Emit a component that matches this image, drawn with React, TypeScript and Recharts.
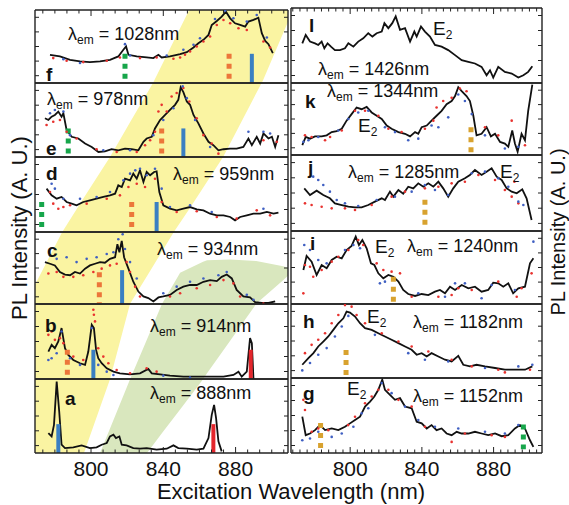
import React from "react";
import { ComposedChart, Line, Scatter, XAxis, YAxis, ReferenceLine, Area } from "recharts";

type Pt = [number, number];
type Band = [number, number, number];
type Mark = { x: number; top: number; bottom: number; kind: "blue" | "red" | "orange" | "green" | "gold" };

const FONT = '"Liberation Sans", Arial, Helvetica, sans-serif';

// axis values
const xMajor = [800, 840, 880];
const yTicks = [10, 30, 50, 70, 90];
const leftDomain: [number, number] = [769, 909];
const rightDomain: [number, number] = [767, 907];

// shaded bands of the left column: [nm, lower, upper] in panel units (0 = bottom of a, 6 = top of f)
const yellowBand: Band[] = [
  [769, 0, 2.28], [784, 0, 2.99], [796.1, 0, 3.46], [810.5, 1.0, 4.01], [821.6, 2.02, 4.48],
  [834.3, 2.53, 5.01], [846, 3.0, 5.59], [854.3, 3.3, 6], [873.1, 4.01, 6], [895.2, 5.05, 6], [909, 5.84, 6],
];
const greenBand: Band[] = [
  [805, 0, 0], [821.6, 0, 1.0], [831, 0, 1.54], [839.3, 0.27, 2.02], [849.3, 0.59, 2.44], [862, 1.0, 2.59],
  [864.2, 1.08, 2.61], [877, 1.52, 2.62], [891.4, 2.02, 2.6], [906.3, 2.34, 2.53], [909, 2.4, 2.51],
];

// ---- panel f, λem = 1028 nm
const fLine: Pt[] = [
  [777.3, 38.6], [782.8, 36.4], [788.4, 31.8], [793.9, 29.5], [799.4, 28.6], [805, 29.5], [810.5, 31.8], [815.1, 36.4],
  [817.9, 45.5], [819.4, 50], [820.7, 38.6], [825.3, 36.4], [830.8, 35], [834.5, 34.1], [837.3, 38.6], [839.1, 35],
  [843.7, 36.4], [849.3, 39.5], [853, 42.3], [856.7, 48.6], [859.4, 54.5], [862.2, 59.1], [865, 65.9], [866.8, 79.5],
  [869.6, 85], [872.3, 90.9], [874.7, 97.7], [877, 88.6], [879.7, 81.8], [882.5, 79.5], [885.3, 77.3], [887.1, 84.1],
  [889.9, 86.4], [892.6, 89.5], [894.5, 68.2], [896.4, 57.7], [898.2, 53.2], [900.6, 40.9],
];
const fRed: Pt[] = [
  [779.1, 34.1], [786.5, 30.5], [795.7, 28.6], [808.7, 30.5], [816, 35], [827.1, 34.1], [836.3, 35], [845.6, 33.2],
  [849.3, 35], [852, 38.6], [854.8, 43.2], [858.5, 50], [862.2, 56.8], [865.9, 63.6], [869.6, 79.5], [873.3, 86.4],
  [877, 81.8], [881.6, 75], [886.2, 72.7], [895.4, 56.8], [899.1, 48.6],
];
const fBlue: Pt[] = [
  [784.7, 32.7], [793.9, 27.3], [818.8, 53.2], [821.6, 37.7], [841.9, 37.7], [851.1, 45.5], [856.7, 52.3],
  [860.3, 61.4], [868.6, 87.7], [874.2, 99], [878.8, 88.6], [886.2, 84.1], [891.7, 93.2], [897.3, 62.3],
];
const fMarks: Mark[] = [
  { x: 818.8, top: 40, bottom: 4, kind: "green" },
  { x: 876.4, top: 40, bottom: 3, kind: "orange" },
  { x: 889, top: 40, bottom: 0, kind: "blue" },
];

// ---- panel e, λem = 978 nm
const eLine: Pt[] = [
  [774.5, 52.3], [776.4, 50], [778.2, 54.5], [780, 56.8], [781.9, 61.4], [783.7, 54.5], [784.7, 59.1], [786.5, 36.4],
  [789.3, 27.3], [793, 25], [796.7, 18.2], [800.4, 13.6], [804.1, 6.8], [807.7, 7.7], [811.4, 10.5], [815.1, 9.1],
  [818.8, 11.4], [822.5, 10.5], [826.2, 9.1], [829, 20.5], [830.8, 25], [833.6, 27.3], [835.4, 38.6], [838.2, 50],
  [841, 56.8], [843.7, 63.6], [846.5, 70.5], [848.3, 77.3], [849.6, 94.1], [851.1, 87.7], [853, 75], [854.8, 70.5],
  [856.7, 56.8], [859.4, 45.5], [862.2, 31.8], [865, 20.5], [867.7, 15.9], [870.5, 9.1], [873.3, 10.5], [877, 11.4],
  [880.6, 11.4], [884.3, 13.6], [887.1, 25], [889, 15.9], [891.7, 27.3], [893.6, 18.2], [895.4, 31.8], [898.2, 25],
  [900.1, 27.3], [901.9, 13.6], [903.7, 29.5],
];
const eRed: Pt[] = [
  [775.4, 43.2], [779.1, 47.7], [782.8, 50], [786.5, 34.1], [792, 25], [803.1, 10.5], [814.2, 6.8], [825.3, 6.8],
  [829.9, 15.9], [832.7, 22.7], [835.4, 34.1], [837.3, 61.4], [839.1, 70.5], [841.9, 61.4], [844.6, 81.8],
  [847.4, 86.4], [851.1, 93.2], [854.4, 75], [858.5, 52.3], [862.2, 29.5], [866.8, 18.2], [870.5, 4.5],
  [895.4, 22.7], [902.8, 20.5],
];
const eBlue: Pt[] = [
  [777.3, 59.1], [780, 63.6], [784.7, 61.4], [788.4, 29.5], [806.8, 9.1], [821.6, 9.1], [834.5, 29.5], [840, 50],
  [845.6, 65.9], [850.7, 95.5], [853, 79.5], [857.6, 50], [865.9, 13.6], [887.1, 34.1], [895.4, 34.1], [899.1, 31.8],
];
const eMarks: Mark[] = [
  { x: 787.4, top: 38.6, bottom: 2, kind: "green" },
  { x: 839.1, top: 38.6, bottom: 2, kind: "orange" },
  { x: 851.1, top: 38.6, bottom: 0, kind: "blue" },
];

// ---- panel d, λem = 959 nm
const dLine: Pt[] = [
  [775.4, 57.8], [778.2, 48.9], [781, 44.4], [783.7, 46.7], [786.5, 40], [789.3, 37.8], [792, 35.6], [795.7, 40],
  [799.4, 42.2], [803.1, 44.4], [806.8, 46.7], [810.5, 48.9], [813.3, 51.1], [815.1, 62.2], [817, 60], [818.8, 71.1],
  [821.6, 68.9], [823.4, 77.8], [825.3, 71.1], [827.1, 82.2], [829, 66.7], [830.8, 80], [832.7, 75.6], [834.9, 80],
  [836.3, 80.9], [837.8, 53.3], [840, 35.6], [843.7, 31.1], [847.4, 28.9], [851.1, 31.1], [854.8, 33.3],
  [858.5, 30.2], [862.2, 28.9], [865.9, 24.4], [869.6, 22.2], [873.3, 22.2], [877, 20], [879.7, 15.6], [882.5, 20],
  [886.2, 22.2], [889.9, 24.4], [893.6, 24.4], [897.3, 26.7], [901, 24.4], [903.7, 25.8],
];
const dRed: Pt[] = [
  [777.3, 53.3], [779.1, 37.8], [781.9, 31.1], [784.7, 33.3], [788.4, 35.6], [797.6, 37.8], [808.7, 44.4],
  [816, 48.9], [820.7, 60], [825.3, 64.4], [829.9, 60], [835.4, 71.1], [839.1, 40], [847.4, 26.7], [858.5, 27.6],
  [869.6, 20], [880.6, 17.8], [891.7, 28.9], [899.1, 22.2],
];
const dBlue: Pt[] = [
  [778.2, 64.4], [780, 57.8], [784.7, 44.4], [793.9, 44.4], [803.1, 46.7], [810.5, 53.3], [817.9, 68.9],
  [821.6, 77.8], [824.5, 82.2], [827.1, 84.4], [830.8, 75.6], [835.4, 84.4], [839.1, 57.8], [843.7, 33.3],
  [854.8, 35.6], [866.8, 26.7], [895.4, 31.1],
];
const dMarks: Mark[] = [
  { x: 772.7, top: 40, bottom: 2, kind: "green" },
  { x: 822.5, top: 40, bottom: 2, kind: "orange" },
  { x: 836.3, top: 40, bottom: 0, kind: "blue" },
];

// ---- panel c, λem = 934 nm
const cLine: Pt[] = [
  [774.5, 58.2], [777.3, 55.9], [780, 53.6], [782.8, 44.5], [785.6, 40.9], [788.4, 40], [791.1, 44.5], [793.9, 42.3],
  [796.7, 49.1], [799.4, 53.6], [802.2, 55.9], [805, 58.2], [807.7, 57.3], [810.5, 62.7], [813.3, 65], [814.6, 83.2],
  [815.7, 71.8], [817, 87.7], [818.3, 65], [820.7, 49.1], [823.4, 30.9], [826.2, 17.3], [829, 10.5], [831.7, 8.2],
  [834.5, 3.6], [837.3, 9.1], [840, 10.5], [843.7, 12.7], [847.4, 19.5], [851.1, 24.1], [854.8, 26.4], [858.5, 26.4],
  [862.2, 30.9], [865.9, 33.2], [869.6, 31.8], [872.3, 37.7], [875.1, 40.9], [877.9, 35.5], [880.6, 19.5],
  [884.3, 10.5], [888, 9.1], [890.8, 2.7], [894.5, 1.4], [898.2, 1.4], [901.9, 3.6],
];
const cRed: Pt[] = [
  [776.4, 42.3], [781, 44.5], [784.7, 37.7], [790.2, 37.7], [795.7, 40], [801.3, 44.5], [805.9, 49.1], [810.5, 53.6],
  [814.2, 55.9], [819.7, 58.2], [821.6, 44.5], [824.4, 24.1], [827.1, 10.5], [843.7, 10.5], [849.3, 15],
  [858.5, 21.8], [865.9, 26.4], [873.3, 33.2], [878.8, 28.6], [882.5, 10.5], [895.4, 0.5],
];
const cBlue: Pt[] = [
  [777.3, 67.3], [781, 62.7], [786.5, 65], [792, 58.2], [797.6, 62.7], [803.1, 65], [808.7, 69.5], [812.4, 71.8],
  [815.1, 90], [817.5, 96.8], [818.8, 76.4], [821.6, 58.2], [825.3, 35.5], [840, 15], [847.4, 24.1], [854.8, 30.9],
  [862.2, 35.5], [870.5, 40], [875.1, 44.5], [886.2, 12.7], [889.9, 5.9],
];
const cMarks: Mark[] = [
  { x: 804.6, top: 44, bottom: 1, kind: "orange" },
  { x: 817.2, top: 47, bottom: 0, kind: "blue" },
];

// ---- panel b, λem = 914 nm
const bLine: Pt[] = [
  [776.4, 36.6], [778.2, 45.5], [780, 41.1], [781.9, 50], [783.7, 67.9], [785.6, 41.1], [787.4, 32.1], [790.2, 25.4],
  [793.9, 21], [796.7, 18.8], [798.5, 36.6], [800.4, 72.3], [801.6, 67.9], [802.8, 38.8], [804, 27.7], [805.9, 21],
  [808.7, 14.3], [812.4, 9.8], [816, 7.6], [821.6, 6.3], [827.1, 7.6], [831.7, 13.4], [833.6, 7.6], [838.2, 6.3],
  [843.7, 4.5], [851.1, 3.1], [858.5, 3.1], [865.9, 3.1], [873.3, 3.1], [878.8, 5.4], [881.6, 9.8], [883.4, 3.1],
  [886.2, 9.8], [888, 54.5], [889, 47.8], [889.9, 0],
];
const bRed: Pt[] = [
  [776.4, 58.9], [778.2, 63.4], [780, 52.2], [782.8, 54.5], [784.7, 47.8], [790.2, 29.9], [795.7, 25.4],
  [801.3, 92.4], [801.6, 85.7], [802.2, 76.8], [804, 41.1], [806.8, 29.9], [809.6, 21], [814.2, 12.1],
  [821.6, 7.6], [830.8, 14.3], [836.3, 9.8],
];
const bBlue: Pt[] = [
  [776.4, 25.4], [778.2, 27.7], [781, 34.4], [783.7, 63.4], [788.4, 27.7], [793.9, 18.8], [800.4, 67.9], [804, 18.8],
  [808.7, 9.8], [812.4, 5.4], [840, 4.5], [854.8, 1.8],
];
const bMarks: Mark[] = [
  { x: 786.9, top: 39, bottom: 3, kind: "orange" },
  { x: 801.3, top: 39, bottom: 0, kind: "blue" },
  { x: 888.4, top: 39, bottom: 0, kind: "red" },
];

// ---- panel a, λem = 888 nm
const aLine: Pt[] = [
  [776.4, 26.9], [778.2, 22.4], [779.5, 38.1], [781, 96.4], [782.4, 56.1], [783.7, 11.2], [785.6, 6.7], [790.2, 7.6],
  [794.8, 10.3], [799.4, 6.7], [803.1, 7.6], [805.9, 11.2], [808.7, 13.5], [810.5, 22.4], [812.4, 24.7], [813.8, 20.2],
  [815.7, 22.4], [817, 11.2], [819.7, 10.3], [823.4, 6.7], [827.1, 5.8], [830.8, 6.7], [836.3, 4.5], [841.9, 5.8],
  [845.6, 10.3], [848.3, 6.7], [853, 5.8], [858.5, 4.5], [862.2, 5.8], [865, 20.2], [866.8, 51.6], [868.1, 65],
  [869.2, 47.1], [870.5, 15.7], [872.3, 2.2],
];
const aMarks: Mark[] = [
  { x: 781.9, top: 39, bottom: 0, kind: "blue" },
  { x: 867.7, top: 39, bottom: 0, kind: "red" },
];

// ---- panel l, λem = 1426 nm
const lLine: Pt[] = [
  [773.3, 52.9], [775.2, 64.1], [777.6, 55.2], [780.4, 52.9], [782.2, 50.7], [784.1, 55.2], [785.6, 46.2], [787.4, 52.9],
  [789.3, 48.4], [791.5, 43.9], [794.3, 43.9], [797.1, 46.2], [799, 52.9], [801.8, 48.4], [804.5, 55.2], [807.3, 59.6],
  [810.1, 66.4], [812.4, 61.9], [814.8, 66.4], [817.6, 68.6], [819.1, 79.8], [821.3, 73.1], [823.5, 79.8],
  [825.4, 88.8], [827.8, 70.9], [830.6, 73.1], [833.4, 55.2], [835.8, 68.6], [837.1, 61.9], [839.5, 75.3],
  [841.7, 68.6], [844.5, 61.9], [847.3, 50.7], [851, 48.4], [854.7, 43.9], [858.5, 37.2], [862.2, 30.5],
  [865.9, 28.3], [869.6, 26], [873.3, 21.5], [876.1, 10.3], [878, 17], [879.8, 7.2], [882.6, 21.5], [886.3, 14.8],
  [890.1, 12.6], [893.8, 7.2], [896.6, 10.3], [899.3, 14.8], [901.6, 22.4],
];

// ---- panel k, λem = 1344 nm
const kLine: Pt[] = [
  [773.3, 13.6], [775.2, 25], [777.6, 22.7], [780.4, 25.9], [784.1, 25.9], [786.9, 27.3], [789.7, 31.8], [792.5, 33.2],
  [795.3, 36.4], [798, 47.7], [800.8, 56.8], [803.6, 65.9], [806.4, 63.6], [809.2, 66.8], [812, 59.1], [814.8, 54.5],
  [817.6, 50], [820.4, 40.9], [823.1, 36.4], [826.9, 31.8], [830.6, 29.5], [833.4, 25.9], [836.2, 31.8], [838, 29.5],
  [839.9, 38.6], [842.7, 40.9], [845.4, 47.7], [848.2, 54.5], [851, 61.4], [853.8, 70.5], [856.6, 75], [858.5, 81.8],
  [860.3, 94.1], [862.2, 88.6], [864.9, 81.8], [866.8, 75], [868.7, 54.5], [870.5, 27.3], [873.3, 29.5],
  [876.1, 38.6], [878.5, 25.9], [880.8, 29.5], [883.6, 18.2], [886.3, 15.9], [888.2, 11.4], [890.4, 34.1],
  [891.9, 15.9], [893.4, 4.5], [895.6, 29.5], [897.5, 20.5], [899.3, 61.4], [901.6, 97.7],
];
const kRed: Pt[] = [
  [774.8, 27.3], [778.5, 25], [786, 20.5], [788.8, 25], [795.3, 34.1], [802.7, 61.4], [808.3, 61.4], [815.7, 54.5],
  [821.3, 36.4], [828.7, 31.8], [841.7, 36.4], [846.4, 47.7], [848.2, 65.9], [851.9, 75], [856.6, 79.5],
  [861.2, 92.3], [864.9, 88.6], [875.2, 38.6], [882.6, 27.3], [890.1, 47.7], [897.5, 13.6],
];
const kBlue: Pt[] = [
  [773.9, 18.2], [776.7, 20.5], [782.2, 25], [793.4, 34.1], [799, 50], [804.5, 59.1], [810.1, 61.4], [819.4, 38.6],
  [825, 31.8], [832.4, 20.5], [838, 22.7], [845.4, 40.9], [849.2, 38.6], [854.7, 52.3], [860.3, 84.1], [864, 75],
  [867.8, 56.8], [875.2, 27.3], [886.3, 9.1], [893.8, 11.4],
];
const kMarks: Mark[] = [{ x: 867.4, top: 38.6, bottom: 1, kind: "gold" }];

// ---- panel j, λem = 1285 nm
const jLine: Pt[] = [
  [774.4, 56.1], [777.6, 47.4], [781.3, 53.1], [785, 47.4], [788.7, 43], [791.5, 36.4], [795.3, 34.2], [799, 32],
  [802.7, 31.1], [806.4, 31.1], [810.1, 34.2], [813.8, 38.6], [817.6, 43], [819.4, 40.8], [822.2, 51.8], [824.1, 45.2],
  [826.9, 53.9], [829.6, 49.1], [832.4, 58.3], [835.2, 56.1], [838, 62.7], [840.8, 58.3], [843.6, 62.7], [846.4, 58.3],
  [849.2, 64.9], [851.9, 56.1], [854.7, 45.2], [857.5, 56.1], [860.3, 64.9], [864, 69.3], [866.8, 73.7], [869.6, 80.3],
  [873.3, 73.7], [876.1, 78.1], [878.9, 82.5], [881.7, 71.5], [884.5, 67.1], [887.3, 56.1], [890.1, 51.8],
  [892.9, 49.6], [896, 54.8], [898.4, 43], [901.2, 14.5],
];
const jRed: Pt[] = [
  [774.8, 36.4], [778.5, 34.2], [784.1, 32], [789.7, 29.8], [797.1, 29.8], [802.7, 27.6], [812, 34.2], [823.1, 45.2],
  [830.6, 51.8], [841.7, 56.1], [849.2, 58.3], [856.6, 62.7], [864, 64.9], [871.5, 73.7], [880.8, 67.1],
  [886.3, 53.9], [890.1, 45.2], [893.8, 36.4], [891.6, 64.9],
];
const jBlue: Pt[] = [
  [779.4, 71.5], [782.2, 67.1], [785, 60.5], [788.7, 51.8], [792.5, 40.8], [797.1, 36.4], [804.5, 32.9], [814.8, 40.8],
  [825, 45.2], [834.3, 51.8], [841.7, 60.5], [847.3, 53.9], [854.7, 47.4], [867.8, 75.9], [875.2, 78.1],
  [882.6, 69.3], [888.2, 58.3], [893.8, 38.6], [896.6, 34.2],
];
const jMarks: Mark[] = [{ x: 841.7, top: 41, bottom: 5, kind: "gold" }];

// ---- panel i, λem = 1240 nm
const iLine: Pt[] = [
  [773.9, 46.6], [775.7, 65.8], [778.5, 58], [781.3, 39.7], [784.1, 53.4], [786.9, 48.9], [789.7, 60.3], [792.5, 64.8],
  [795.3, 62.6], [798, 74], [800.8, 79.5], [803.1, 92.2], [804.9, 80.8], [806.8, 87.7], [809.2, 76.3], [811.6, 55.7],
  [813.5, 53.4], [815.7, 42], [818.5, 35.2], [821.3, 39.7], [824.1, 37.4], [826.9, 30.6], [829.6, 19.2], [832.4, 13.7],
  [836.2, 11], [839.9, 13.7], [843.6, 12.3], [847.3, 16.9], [850.1, 19.2], [852.9, 14.6], [855.7, 23.7],
  [858.5, 19.2], [862.2, 26], [865.9, 21.5], [869.6, 23.7], [873.3, 16.9], [877, 19.2], [879.8, 29.2], [882.6, 28.3],
  [885.4, 23.7], [888.2, 28.3], [890.9, 14.6], [893.8, 21.5], [897.5, 23.7], [900.3, 55.7], [902.2, 62.6],
];
const iRed: Pt[] = [
  [773.9, 14.6], [774.8, 53.4], [777.6, 51.1], [779.4, 37.4], [784.1, 46.6], [789.7, 58], [793.4, 64.8], [799, 74],
  [804.5, 87.7], [807.3, 80.8], [814.8, 55.7], [818.5, 46.6], [823.1, 44.3], [827.8, 42], [834.3, 10], [849.2, 10],
  [856.6, 12.3], [860.3, 21.5], [867.8, 19.2], [882.6, 30.6], [892.9, 10], [895.6, 21.5], [901.2, 42],
];
const iBlue: Pt[] = [
  [774.4, 80.8], [777.6, 74], [782.2, 60.3], [786.9, 55.7], [797.1, 74], [801.8, 80.8], [805.5, 76.3], [816.6, 28.3],
  [819.4, 30.6], [838, 14.6], [852.9, 10], [858.5, 28.3], [864, 28.3], [873.3, 7.8], [878.9, 26], [891.9, 19.2],
  [902.2, 85.4],
];
const iMarks: Mark[] = [{ x: 824.1, top: 37.4, bottom: 1, kind: "gold" }];

// ---- panel h, λem = 1182 nm
const hLine: Pt[] = [
  [773.3, 17.9], [776.7, 26.9], [779.5, 33.6], [782.2, 42.6], [785, 49.3], [787.8, 56.1], [790.6, 65], [793.4, 74],
  [796.2, 80.7], [798, 89.7], [799.9, 88.3], [802.7, 83], [805.5, 74], [808.3, 67.3], [812, 65], [815.7, 60.5],
  [819.4, 56.1], [823.1, 51.6], [826.9, 47.1], [830.6, 42.6], [834.3, 38.1], [837.1, 31.4], [839.9, 33.6],
  [842.7, 29.1], [845.4, 33.6], [849.2, 29.1], [852.9, 24.7], [856.6, 22.4], [860.3, 30], [863.1, 17.9],
  [866.8, 15.7], [870.5, 17.9], [875.2, 15.7], [880.8, 13.5], [886.3, 11.2], [891.9, 11.2], [897.5, 11.2], [901.6, 15.7],
];
const hRed: Pt[] = [
  [774.8, 33.6], [778.5, 44.8], [782.2, 51.6], [786, 60.5], [789.7, 74], [793.4, 85.2], [797.1, 98.5], [800.8, 96.4],
  [803.6, 85.2], [808.3, 74], [817.6, 60.5], [826.9, 49.3], [834.3, 42.6], [843.6, 35.9], [856.6, 24.7],
  [867.8, 15.7], [882.6, 11.2], [886.3, 7.6], [900.3, 11.2],
];
const hBlue: Pt[] = [
  [773.3, 10.3], [777.6, 20.2], [782.2, 31.4], [786.9, 40.4], [791.5, 56.1], [795.3, 69.5], [799, 83.9], [813.8, 58.3],
  [832.4, 33.6], [841.7, 24.7], [854.7, 22.4], [875.2, 13.5], [893.8, 15.7], [901.6, 17.9],
];
const hMarks: Mark[] = [{ x: 797.7, top: 38, bottom: 4, kind: "gold" }];

// ---- panel g, λem = 1152 nm
const gLine: Pt[] = [
  [773.3, 48.4], [775.2, 23.8], [777.6, 26], [780.4, 30.5], [783.2, 37.2], [786, 30.5], [789.7, 32.7], [793.4, 30.5],
  [797.1, 35], [799.9, 39.5], [802.7, 43.9], [805.5, 48.4], [808.3, 61.9], [811.1, 68.6], [813.5, 75.3], [815.7, 84.3],
  [817.9, 97.8], [819.4, 84.3], [822.2, 77.6], [825, 70.9], [827.8, 73.1], [830.6, 61.9], [834.3, 59.6], [837.1, 41.7],
  [839.9, 39.5], [842.7, 32.7], [845.4, 37.2], [848.2, 30.5], [851, 32.7], [853.8, 26], [856.6, 23.8], [859.4, 28.3],
  [862.2, 26], [865.9, 26], [869.6, 28.3], [873.3, 26], [877, 23.8], [880.8, 26], [884.5, 22.4], [888.2, 23.8],
  [891.9, 32.7], [894.7, 37.2], [897.5, 32.7], [900.3, 17], [902.2, 8.1],
];
const gRed: Pt[] = [
  [773.9, 70.9], [774.8, 57.4], [778.5, 28.3], [782.2, 32.7], [787.8, 30.5], [798.9, 37.2], [802.7, 48.4],
  [808.3, 66.4], [812, 75.3], [815.7, 84.3], [821.3, 84.3], [826.9, 70.9], [834.3, 61.9], [841.7, 35], [856.6, 14.8],
  [864, 26], [878.9, 23.8], [886.3, 21.5],
];
const gBlue: Pt[] = [
  [773.3, 17], [777.6, 19.3], [782.2, 28.3], [789.7, 21.5], [795.3, 26], [801.8, 35], [806.4, 52.9], [810.1, 59.6],
  [817.6, 93.3], [823.1, 79.8], [830.6, 61.9], [838, 43.9], [847.3, 35], [860.3, 32.7], [875.2, 28.3], [886.3, 26],
  [893.8, 37.2],
];
const gMarks: Mark[] = [
  { x: 783.5, top: 40, bottom: 5, kind: "gold" },
  { x: 896.6, top: 38, bottom: 5, kind: "green" },
];

// ---- layout
const markColor: Record<Mark["kind"], string> = {
  blue: "#3a7fc2",
  red: "#e3262c",
  orange: "#ec763a",
  green: "#17a64b",
  gold: "#d8a22f",
};

type Col = { left: number; width: number; domain: [number, number]; step: number };
const LEFT: Col = { left: 35, width: 253, domain: leftDomain, step: 40 / 6 };
const RIGHT: Col = { left: 291, width: 251, domain: rightDomain, step: 4 };

type PanelCfg = {
  id: string;
  col: Col;
  top: number;
  bottom: number;
  line: Pt[];
  red?: Pt[];
  blue?: Pt[];
  marks: Mark[];
  topAxis?: boolean;
  bottomAxis?: boolean;
};

const panels: PanelCfg[] = [
  { id: "f", col: LEFT, top: 10, bottom: 83, line: fLine, red: fRed, blue: fBlue, marks: fMarks, topAxis: true },
  { id: "e", col: LEFT, top: 83, bottom: 157, line: eLine, red: eRed, blue: eBlue, marks: eMarks },
  { id: "d", col: LEFT, top: 157, bottom: 232, line: dLine, red: dRed, blue: dBlue, marks: dMarks },
  { id: "c", col: LEFT, top: 232, bottom: 304, line: cLine, red: cRed, blue: cBlue, marks: cMarks },
  { id: "b", col: LEFT, top: 304, bottom: 379, line: bLine, red: bRed, blue: bBlue, marks: bMarks },
  { id: "a", col: LEFT, top: 379, bottom: 453, line: aLine, marks: aMarks, bottomAxis: true },
  { id: "l", col: RIGHT, top: 8, bottom: 83, line: lLine, marks: [], topAxis: true },
  { id: "k", col: RIGHT, top: 83, bottom: 155, line: kLine, red: kRed, blue: kBlue, marks: kMarks },
  { id: "j", col: RIGHT, top: 155, bottom: 231, line: jLine, red: jRed, blue: jBlue, marks: jMarks },
  { id: "i", col: RIGHT, top: 231, bottom: 304, line: iLine, red: iRed, blue: iBlue, marks: iMarks },
  { id: "h", col: RIGHT, top: 304, bottom: 378, line: hLine, red: hRed, blue: hBlue, marks: hMarks },
  { id: "g", col: RIGHT, top: 378, bottom: 453, line: gLine, red: gRed, blue: gBlue, marks: gMarks, bottomAxis: true },
];

const xy = (p: Pt) => ({ x: p[0], y: p[1] });

function xTicks(col: Col) {
  const out: number[] = [];
  const start = 800 - col.step * Math.floor((800 - col.domain[0]) / col.step);
  for (let t = start; t <= col.domain[1] + 0.001; t += col.step) out.push(Math.round(t * 100) / 100);
  return out;
}

const isMajor = (v: number) => xMajor.some((m) => Math.abs(m - v) < 0.05);

const XTick = (props: any) => {
  const { x, y, payload, side, labels, show } = props;
  if (!show) return <g />;
  const major = isMajor(payload.value);
  const len = major ? 6 : 3.5;
  const dir = side === "bottom" ? -1 : 1;
  return (
    <g>
      <line x1={x} x2={x} y1={y} y2={y + dir * len} stroke="#222" strokeWidth={1} />
      {labels && major && (
        <text x={x} y={y + 23} textAnchor="middle" fontSize={21} fontFamily={FONT} fill="#111">
          {Math.round(payload.value)}
        </text>
      )}
    </g>
  );
};

const YTick = (props: any) => {
  const { x, y, side } = props;
  return <line x1={x} x2={x + (side === "left" ? 4 : -4)} y1={y} y2={y} stroke="#222" strokeWidth={1} />;
};

const dot = (color: string) => (props: any) => <circle cx={props.cx} cy={props.cy} r={1.3} fill={color} />;

const frame = { stroke: "#222", strokeWidth: 1.4 };

function Panel({ p }: { p: PanelCfg }) {
  const h = p.bottom - p.top;
  const extra = p.bottomAxis ? 30 : 0;
  const ticks = xTicks(p.col);
  return (
    <div style={{ position: "absolute", left: p.col.left - 1, top: p.top - 1 }}>
      <ComposedChart
        width={p.col.width + 2}
        height={h + 2 + extra}
        data={p.line.map(xy)}
        margin={{ top: 0, right: 0, bottom: extra, left: 0 }}
      >
        <XAxis
          xAxisId="b"
          dataKey="x"
          type="number"
          domain={p.col.domain}
          allowDataOverflow
          ticks={ticks}
          interval={0}
          height={1}
          tickSize={0}
          tickMargin={0}
          tickLine={false}
          axisLine={frame}
          tick={(t: any) => <XTick {...t} side="bottom" show={p.bottomAxis} labels={p.bottomAxis} />}
        />
        <XAxis
          xAxisId="t"
          orientation="top"
          dataKey="x"
          type="number"
          domain={p.col.domain}
          allowDataOverflow
          ticks={ticks}
          interval={0}
          height={1}
          tickSize={0}
          tickMargin={0}
          tickLine={false}
          axisLine={frame}
          tick={(t: any) => <XTick {...t} side="top" show={p.topAxis} />}
        />
        <YAxis
          yAxisId="l"
          dataKey="y"
          type="number"
          domain={[0, 100]}
          allowDataOverflow
          ticks={yTicks}
          interval={0}
          width={1}
          tickSize={0}
          tickMargin={0}
          tickLine={false}
          axisLine={frame}
          tick={(t: any) => <YTick {...t} side="left" />}
        />
        <YAxis
          yAxisId="r"
          orientation="right"
          dataKey="y"
          type="number"
          domain={[0, 100]}
          allowDataOverflow
          ticks={yTicks}
          interval={0}
          width={1}
          tickSize={0}
          tickMargin={0}
          tickLine={false}
          axisLine={frame}
          tick={(t: any) => <YTick {...t} side="right" />}
        />
        {p.red && (
          <Scatter xAxisId="b" yAxisId="l" data={p.red.map(xy)} dataKey="y" shape={dot("#e8322f")} isAnimationActive={false} />
        )}
        {p.blue && (
          <Scatter xAxisId="b" yAxisId="l" data={p.blue.map(xy)} dataKey="y" shape={dot("#3f5fc2")} isAnimationActive={false} />
        )}
        <Line
          xAxisId="b"
          yAxisId="l"
          dataKey="y"
          type="linear"
          stroke="#111"
          strokeWidth={1.8}
          dot={false}
          activeDot={false}
          isAnimationActive={false}
        />
        {p.marks.map((m, i) => {
          const dashed = m.kind === "orange" || m.kind === "green" || m.kind === "gold";
          return (
            <ReferenceLine
              key={i}
              xAxisId="b"
              yAxisId="l"
              segment={[{ x: m.x, y: m.top }, { x: m.x, y: m.bottom }]}
              stroke={markColor[m.kind]}
              strokeWidth={dashed ? 5 : 4}
              strokeDasharray={dashed ? "5 5" : undefined}
              ifOverflow="visible"
            />
          );
        })}
      </ComposedChart>
    </div>
  );
}

function BandChart({ band, color }: { band: Band[]; color: string }) {
  return (
    <div style={{ position: "absolute", left: LEFT.left, top: 10 }}>
      <ComposedChart
        width={LEFT.width}
        height={443}
        data={band.map((b) => ({ x: b[0], range: [b[1], b[2]] }))}
        margin={{ top: 0, right: 0, bottom: 0, left: 0 }}
      >
        <XAxis dataKey="x" type="number" domain={leftDomain} allowDataOverflow hide />
        <YAxis type="number" domain={[0, 6]} allowDataOverflow hide />
        <Area dataKey="range" type="linear" stroke="none" fill={color} fillOpacity={1} isAnimationActive={false} />
      </ComposedChart>
    </div>
  );
}

const Lam = ({ x, y, nm }: { x: number; y: number; nm: number }) => (
  <text x={x} y={y} fontSize={18} fontFamily={FONT} fill="#111">
    λ
    <tspan fontSize={12} dy={4}>
      em
    </tspan>
    <tspan dy={-4}> = {nm}nm</tspan>
  </text>
);

const E2 = ({ x, y }: { x: number; y: number }) => (
  <text x={x} y={y} fontSize={19} fontFamily={FONT} fill="#111">
    E
    <tspan fontSize={12} dy={4}>
      2
    </tspan>
  </text>
);

const Letter = ({ x, y, s }: { x: number; y: number; s: string }) => (
  <text x={x} y={y} fontSize={19} fontWeight="bold" fontFamily={FONT} fill="#111">
    {s}
  </text>
);

export default function App() {
  return (
    <div style={{ position: "absolute", left: 0, top: 0, width: 569, height: 505, background: "#fff", overflow: "hidden" }}>
      <BandChart band={yellowBand} color="#faf4a2" />
      <BandChart band={greenBand} color="#d9e7be" />
      {panels.map((p) => (
        <Panel key={p.id} p={p} />
      ))}
      <svg width={569} height={505} style={{ position: "absolute", left: 0, top: 0, pointerEvents: "none" }}>
        <Lam x={68} y={40} nm={1028} />
        <Lam x={47} y={105} nm={978} />
        <Lam x={173} y={180} nm={959} />
        <Lam x={157} y={255} nm={934} />
        <Lam x={150} y={332} nm={914} />
        <Lam x={150} y={399} nm={888} />
        <Lam x={318} y={75} nm={1426} />
        <Lam x={327} y={97} nm={1344} />
        <Lam x={348} y={178} nm={1285} />
        <Lam x={407} y={252} nm={1240} />
        <Lam x={413} y={328} nm={1182} />
        <Lam x={413} y={402} nm={1152} />
        <Letter x={46} y={81} s="f" />
        <Letter x={46} y={155} s="e" />
        <Letter x={46} y={180} s="d" />
        <Letter x={47} y={257} s="c" />
        <Letter x={45} y={332} s="b" />
        <Letter x={65} y={405} s="a" />
        <Letter x={309} y={32} s="l" />
        <Letter x={305} y={108} s="k" />
        <Letter x={308} y={174} s="j" />
        <Letter x={310} y={250} s="i" />
        <Letter x={303} y={328} s="h" />
        <Letter x={303} y={400} s="g" />
        <E2 x={433} y={35} />
        <E2 x={358} y={132} />
        <E2 x={500} y={178} />
        <E2 x={375} y={253} />
        <E2 x={367} y={323} />
        <E2 x={347} y={395} />
        <text x={291} y={499} textAnchor="middle" fontSize={22} fontFamily={FONT} fill="#111">
          Excitation Wavelength (nm)
        </text>
        <text transform="translate(27,228) rotate(-90)" textAnchor="middle" fontSize={22} fontFamily={FONT} fill="#111">
          PL Intensity (A. U.)
        </text>
        <text transform="translate(565,232) rotate(-90)" textAnchor="middle" fontSize={20} fontFamily={FONT} fill="#111">
          PL Intensity (A. U.)
        </text>
      </svg>
    </div>
  );
}
